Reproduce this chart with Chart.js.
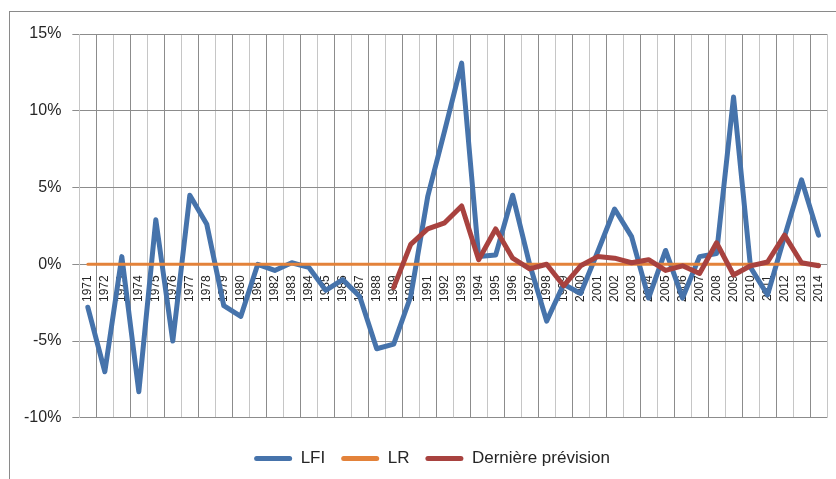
<!DOCTYPE html>
<html>
<head>
<meta charset="utf-8">
<script src="https://cdn.jsdelivr.net/npm/chart.js@4.4.1/dist/chart.umd.min.js"></script>
<style>
    body { margin: 0; background: #fff; }
    #wrap { position: relative; width: 836px; height: 479px; overflow: hidden; }
    #frame { position: absolute; left: 9px; top: 11px; width: 900px; height: 600px; border: 1px solid #8a8a8a; }
    #chart { position: absolute; left: 0; top: 0; }
</style>
</head>
<body>
<div id="wrap">
    <div id="frame"></div>
    <canvas id="chart" width="836" height="479"></canvas>
</div>
<script>
const years = ['1971', '1972', '1973', '1974', '1975', '1976', '1977', '1978', '1979', '1980',
    '1981', '1982', '1983', '1984', '1985', '1986', '1987', '1988', '1989', '1990',
    '1991', '1992', '1993', '1994', '1995', '1996', '1997', '1998', '1999', '2000',
    '2001', '2002', '2003', '2004', '2005', '2006', '2007', '2008', '2009', '2010',
    '2011', '2012', '2013', '2014'];

// values in %
const lfi = [-2.8, -7.0, 0.5, -8.3, 2.9, -5.0, 4.5, 2.6, -2.7, -3.4,
    0.0, -0.4, 0.1, -0.2, -1.7, -1.0, -2.1, -5.5, -5.2, -2.1,
    4.4, 8.7, 13.1, 0.5, 0.6, 4.5, 0.0, -3.7, -1.3, -1.9,
    0.8, 3.6, 1.8, -2.2, 0.9, -2.2, 0.5, 0.7, 10.9, -0.2,
    -2.0, 1.8, 5.5, 1.9];

const lr = years.map(() => 0);

const derniere = [null, null, null, null, null, null, null, null, null, null,
    null, null, null, null, null, null, null, null, -1.5, 1.3,
    2.3, 2.7, 3.8, 0.3, 2.3, 0.4, -0.3, 0.0, -1.4, -0.1,
    0.5, 0.4, 0.1, 0.3, -0.4, -0.1, -0.6, 1.4, -0.7, -0.1,
    0.15, 1.9, 0.1, -0.1];

const yTicks = [-10, -5, 0, 5, 10, 15];

const textColor = '#262626';

// legend in the original sits a bit right of centre
const legendShift = {
    id: 'legendShift',
    afterLayout(chart) {
        chart.legend.left += 12;
        chart.legend.right += 12;
        chart.legend.adjustHitBoxes();
    }
};

new Chart(document.getElementById('chart'), {
    type: 'line',
    data: {
        labels: years,
        datasets: [
            { label: 'LFI', data: lfi, borderColor: '#4673ab', borderWidth: 5, order: 3 },
            { label: 'LR', data: lr, borderColor: '#e3823a', borderWidth: 3, order: 2 },
            { label: 'Dernière prévision', data: derniere, borderColor: '#a8423f', borderWidth: 5, order: 1 }
        ]
    },
    options: {
        responsive: false,
        animation: false,
        layout: { padding: { top: 34, right: 9, bottom: 2, left: 13 } },
        elements: {
            point: { radius: 0, hoverRadius: 0 },
            line: { tension: 0, borderJoinStyle: 'round', borderCapStyle: 'round' }
        },
        plugins: {
            tooltip: { enabled: false },
            legend: {
                position: 'bottom',
                // empty title only pushes the legend row down
                title: { display: true, text: '', font: { size: 1 }, padding: { top: 15, bottom: 0 } },
                labels: {
                    boxWidth: 38,
                    boxHeight: 5,
                    padding: 16,
                    color: textColor,
                    useBorderRadius: true,
                    borderRadius: 2.5,
                    font: { family: 'Liberation Sans', size: 17 },
                    generateLabels: chart => chart.data.datasets.map((ds, i) => ({
                        text: ds.label,
                        fillStyle: ds.borderColor,
                        strokeStyle: ds.borderColor,
                        lineWidth: 0,
                        borderRadius: 2.5,
                        fontColor: textColor,
                        hidden: false,
                        datasetIndex: i
                    }))
                }
            }
        },
        scales: {
            x: {
                type: 'category',
                position: { y: 0 },
                offset: true,
                afterFit: scale => { scale.paddingLeft = 0; scale.paddingRight = 0; },
                grid: {
                    offset: true,
                    drawTicks: false,
                    color: ctx => ctx.index % 2 ? '#8c8c8c' : '#c6c6c6'
                },
                border: { display: false },
                ticks: {
                    autoSkip: false,
                    minRotation: 90,
                    maxRotation: 90,
                    padding: 11,
                    color: textColor,
                    font: { family: 'Liberation Sans', size: 12 }
                }
            },
            y: {
                min: -10,
                max: 15,
                afterBuildTicks: scale => { scale.ticks = yTicks.map(v => ({ value: v })); },
                grid: { color: '#8c8c8c', tickLength: 7 },
                border: { color: '#c6c6c6' },
                ticks: {
                    padding: 11,
                    color: textColor,
                    font: { family: 'Liberation Sans', size: 16 },
                    callback: v => v + '%'
                }
            }
        }
    },
    plugins: [legendShift]
});
</script>
</body>
</html>
